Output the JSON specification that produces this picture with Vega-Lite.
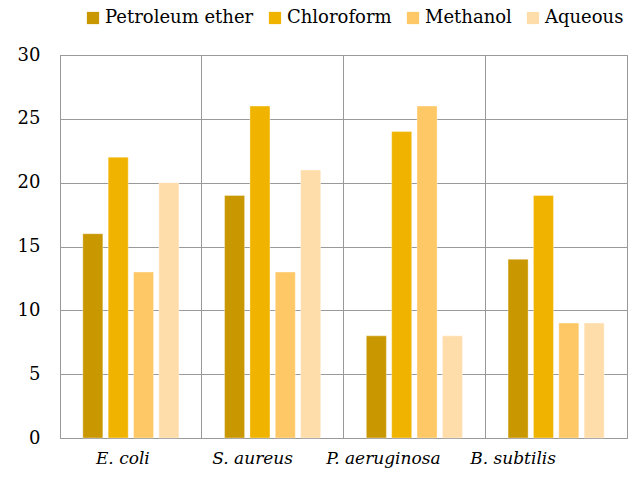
{
  "$schema": "https://vega.github.io/schema/vega-lite/v6.json",
  "width": 567,
  "height": 383,
  "autosize": {"type": "none"},
  "padding": {"left": 60, "top": 55, "right": 5, "bottom": 40},
  "background": "white",
  "config": {
    "font": "DejaVu Serif",
    "view": {"stroke": "#999999", "strokeWidth": 1}
  },
  "data": {
    "values": [
      {"organism": "E. coli", "extract": "Petroleum ether", "value": 16},
      {"organism": "E. coli", "extract": "Chloroform", "value": 22},
      {"organism": "E. coli", "extract": "Methanol", "value": 13},
      {"organism": "E. coli", "extract": "Aqueous", "value": 20},
      {"organism": "S. aureus", "extract": "Petroleum ether", "value": 19},
      {"organism": "S. aureus", "extract": "Chloroform", "value": 26},
      {"organism": "S. aureus", "extract": "Methanol", "value": 13},
      {"organism": "S. aureus", "extract": "Aqueous", "value": 21},
      {"organism": "P. aeruginosa", "extract": "Petroleum ether", "value": 8},
      {"organism": "P. aeruginosa", "extract": "Chloroform", "value": 24},
      {"organism": "P. aeruginosa", "extract": "Methanol", "value": 26},
      {"organism": "P. aeruginosa", "extract": "Aqueous", "value": 8},
      {"organism": "B. subtilis", "extract": "Petroleum ether", "value": 14},
      {"organism": "B. subtilis", "extract": "Chloroform", "value": 19},
      {"organism": "B. subtilis", "extract": "Methanol", "value": 9},
      {"organism": "B. subtilis", "extract": "Aqueous", "value": 9}
    ]
  },
  "mark": {"type": "bar", "stroke": "#ffffff", "strokeOpacity": 0.35, "strokeWidth": 1},
  "encoding": {
    "x": {
      "field": "organism",
      "type": "nominal",
      "sort": ["E. coli", "S. aureus", "P. aeruginosa", "B. subtilis"],
      "scale": {"paddingInner": 0, "paddingOuter": 0},
      "axis": {
        "title": null,
        "labelAngle": 0,
        "labelFont": "DejaVu Serif",
        "labelFontStyle": "italic",
        "labelFontSize": 17,
        "labelColor": "#000000",
        "labelPadding": 12,
        "labelOffset": {
          "condition": [
            {"test": "datum.value == 'E. coli'", "value": -8},
            {"test": "datum.value == 'S. aureus'", "value": -20},
            {"test": "datum.value == 'P. aeruginosa'", "value": -31}
          ],
          "value": -43
        },
        "ticks": false,
        "domain": false,
        "grid": true,
        "bandPosition": 0,
        "gridColor": "#999999",
        "gridWidth": 1,
        "gridOpacity": 1
      }
    },
    "xOffset": {
      "field": "extract",
      "type": "nominal",
      "sort": ["Petroleum ether", "Chloroform", "Methanol", "Aqueous"],
      "scale": {"paddingInner": 0.21, "paddingOuter": 0.9}
    },
    "y": {
      "field": "value",
      "type": "quantitative",
      "scale": {"domain": [0, 30], "nice": false},
      "axis": {
        "title": null,
        "values": [0, 5, 10, 15, 20, 25, 30],
        "labelFont": "DejaVu Serif",
        "labelFontSize": 18,
        "labelColor": "#000000",
        "labelPadding": 20,
        "ticks": false,
        "domain": false,
        "grid": true,
        "gridColor": "#999999",
        "gridWidth": 1,
        "gridOpacity": 1
      }
    },
    "color": {
      "field": "extract",
      "type": "nominal",
      "sort": ["Petroleum ether", "Chloroform", "Methanol", "Aqueous"],
      "scale": {
        "domain": ["Petroleum ether", "Chloroform", "Methanol", "Aqueous"],
        "range": ["#C99700", "#F0B400", "#FEC866", "#FFDDAA"]
      },
      "legend": {
        "title": null,
        "orient": "none",
        "legendX": 24,
        "legendY": -46,
        "direction": "horizontal",
        "symbolType": "square",
        "symbolSize": 150,
        "symbolStrokeWidth": 0,
        "symbolOpacity": 1,
        "labelFont": "DejaVu Serif",
        "labelFontSize": 18,
        "labelColor": "#000000",
        "labelOffset": 3,
        "labelLimit": 300,
        "columnPadding": 12
      }
    }
  }
}
